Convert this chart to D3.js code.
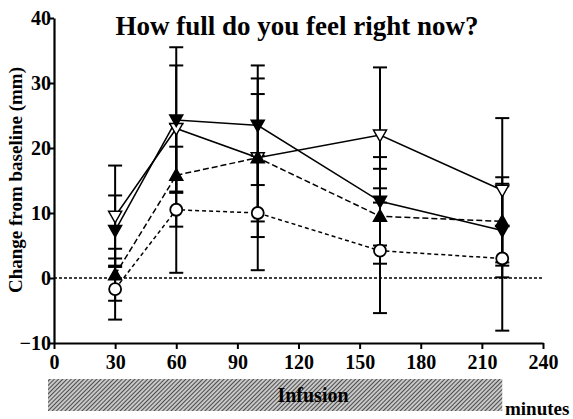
<!DOCTYPE html>
<html>
<head>
<meta charset="utf-8">
<script src="https://cdn.jsdelivr.net/npm/d3@7"></script>
<style>
  body { margin: 0; background: #fff; }
  text { font-family: "Liberation Serif", "Times New Roman", serif; font-weight: bold; }
</style>
</head>
<body>
<div id="chart"></div>
<script>
// time points (minutes)
const times = [30, 60, 100, 160, 220];

// means for each group
const openDown   = [9.5, 23.0, 18.5, 22.0, 13.5];
const filledDown = [7.3, 24.3, 23.5, 11.8, 7.3];
const filledUp   = [0.5, 15.8, 18.5, 9.5, 8.7];
const openCircle = [-1.7, 10.5, 10.0, 4.2, 3.0];

// error (plus / minus)
const openDownErr   = [7.8, 9.7, 12.2, 10.4, 11.1];
const filledDownErr = [5.4, 11.2, 9.2, 6.8, 7.2];
const filledUpErr   = [4.0, 7.9, 9.8, 7.3, 6.8];
const openCircleErr = [4.7, 9.7, 8.8, 9.6, 11.1];

const xTicks = [0, 30, 60, 90, 120, 150, 180, 210, 240];
const yTicks = [-10, 0, 10, 20, 30, 40];

const series = [
    {name: "openDown",   vals: openDown,   err: openDownErr,   marker: "down", fill: "#fff", dash: null,  lw: 1.5},
    {name: "filledDown", vals: filledDown, err: filledDownErr, marker: "down", fill: "#000", dash: null,  lw: 1.5},
    {name: "filledUp",   vals: filledUp,   err: filledUpErr,   marker: "up",   fill: "#000", dash: "6,3", lw: 1.5},
    {name: "openCircle", vals: openCircle, err: openCircleErr, marker: "circle", fill: "#fff", dash: "4,3", lw: 1.5}
];

let svg = d3.select("#chart").append("svg")
    .attr("width", 573)
    .attr("height", 419);

let x = d3.scaleLinear().domain([0, 240]).range([54, 543]);
let y = d3.scaleLinear().domain([-10, 40]).range([343, 18]);

// hatch pattern for the infusion bar
let defs = svg.append("defs");
let pat = defs.append("pattern")
    .attr("id", "hatch")
    .attr("patternUnits", "userSpaceOnUse")
    .attr("width", 3)
    .attr("height", 3)
    .attr("patternTransform", "rotate(45)");
pat.append("rect").attr("width", 3).attr("height", 3).attr("fill", "#c8c8c8");
pat.append("line")
    .attr("x1", 0).attr("y1", 0).attr("x2", 0).attr("y2", 3)
    .attr("stroke", "#222").attr("stroke-width", 1.5);

// infusion bar, 0 to 220 minutes
svg.append("rect")
    .attr("x", x(0) - 6)
    .attr("y", 379)
    .attr("width", x(220) - x(0) + 6)
    .attr("height", 32)
    .attr("fill", "url(#hatch)");

svg.append("text")
    .attr("x", 313)
    .attr("y", 402)
    .attr("text-anchor", "middle")
    .attr("font-size", 20)
    .text("Infusion");

svg.append("text")
    .attr("x", 505)
    .attr("y", 415)
    .attr("font-size", 19)
    .text("minutes");

// zero reference line
svg.append("line")
    .attr("x1", x(0)).attr("x2", x(240))
    .attr("y1", y(0)).attr("y2", y(0))
    .attr("stroke", "#000")
    .attr("stroke-width", 1.6)
    .attr("stroke-dasharray", "3,2");

// axes
let xAxis = svg.append("g")
    .attr("transform", `translate(0,${y(-10)})`)
    .call(d3.axisBottom(x).tickValues(xTicks).tickSize(6).tickSizeOuter(0));
let yAxis = svg.append("g")
    .attr("transform", `translate(${x(0)},0)`)
    .call(d3.axisLeft(y).tickValues(yTicks).tickSize(6).tickSizeOuter(0));

[xAxis, yAxis].forEach(g => {
    g.select(".domain").attr("stroke-width", 2.2);
    g.selectAll(".tick line").attr("stroke-width", 2);
    g.selectAll(".tick text")
        .attr("font-size", 20)
        .attr("fill", "#000")
        .style("font-family", "Liberation Serif, serif")
        .style("font-weight", "bold");
});
xAxis.selectAll(".tick text").attr("dy", "0.85em");
yAxis.selectAll(".tick text").attr("x", -3).attr("dy", "0.33em");

// axis title
svg.append("text")
    .attr("transform", "translate(22,180) rotate(-90)")
    .attr("text-anchor", "middle")
    .attr("font-size", 19)
    .text("Change from baseline (mm)");

// chart title
svg.append("text")
    .attr("x", 297)
    .attr("y", 35)
    .attr("text-anchor", "middle")
    .attr("font-size", 27)
    .text("How full do you feel right now?");

// error bars
series.forEach(s => {
    let g = svg.append("g");
    s.vals.forEach((v, i) => {
        let cx = x(times[i]);
        let hi = y(v + s.err[i]), lo = y(v - s.err[i]);
        g.append("line").attr("x1", cx).attr("x2", cx).attr("y1", hi).attr("y2", lo)
            .attr("stroke", "#000").attr("stroke-width", 2);
        [hi, lo].forEach(yy => {
            g.append("line").attr("x1", cx - 7).attr("x2", cx + 7).attr("y1", yy).attr("y2", yy)
                .attr("stroke", "#000").attr("stroke-width", 2);
        });
    });
});

// connecting lines
let line = d3.line()
    .x((d, i) => x(times[i]))
    .y(d => y(d));

series.forEach(s => {
    svg.append("path")
        .datum(s.vals)
        .attr("d", line)
        .attr("fill", "none")
        .attr("stroke", "#000")
        .attr("stroke-width", s.lw)
        .attr("stroke-dasharray", s.dash);
});

// markers
function markerPath(type) {
    if (type === "down") return "M-6.5,-5 L6.5,-5 L0,6.5 Z";
    if (type === "up") return "M-6.5,5 L6.5,5 L0,-6.5 Z";
    return null;
}

series.forEach(s => {
    let g = svg.append("g");
    s.vals.forEach((v, i) => {
        if (s.marker === "circle") {
            g.append("circle")
                .attr("cx", x(times[i])).attr("cy", y(v)).attr("r", 6)
                .attr("fill", s.fill).attr("stroke", "#000").attr("stroke-width", 1.8);
        } else {
            g.append("path")
                .attr("d", markerPath(s.marker))
                .attr("transform", `translate(${x(times[i])},${y(v)})`)
                .attr("fill", s.fill).attr("stroke", "#000").attr("stroke-width", 1.5);
        }
    });
});
</script>
</body>
</html>
